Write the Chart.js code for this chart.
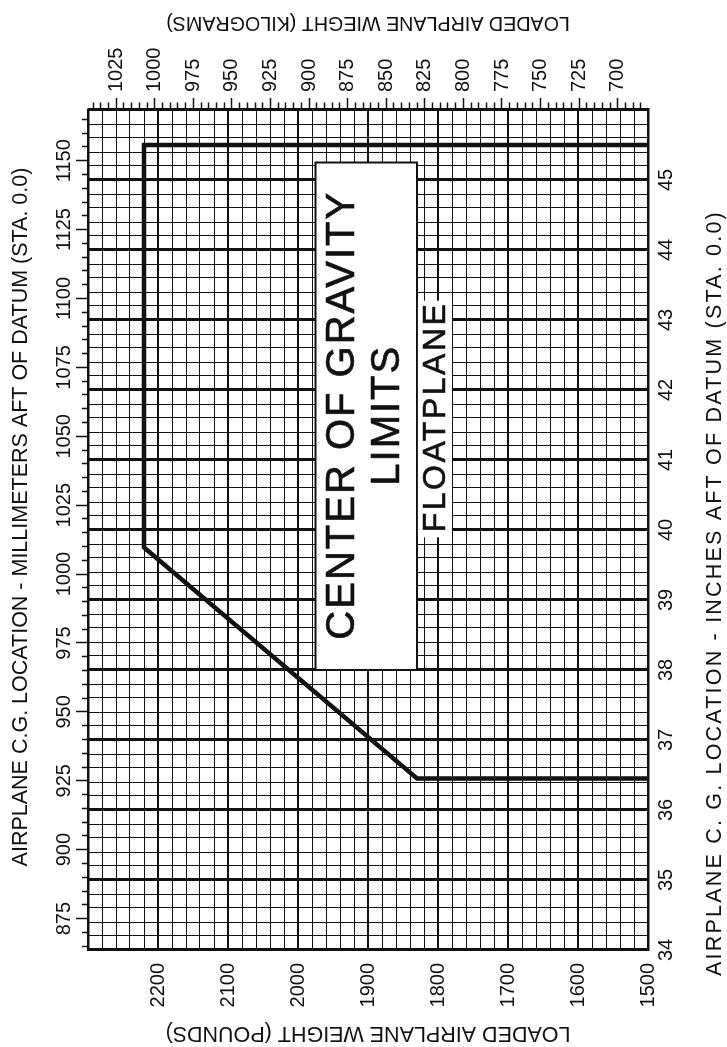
<!DOCTYPE html>
<html>
<head>
<meta charset="utf-8">
<title>Center of Gravity Limits - Floatplane</title>
<script src="https://cdn.jsdelivr.net/npm/chart.js@4.4.1/dist/chart.umd.min.js"></script>
<style>
  html, body { margin: 0; padding: 0; background: #fff; }
  #page { position: relative; width: 727px; height: 1047px; overflow: hidden; background: #fff; }
  /* the chart is laid out landscape and turned a quarter turn counter-clockwise */
  #turn { position: absolute; left: 0; top: 0; width: 1047px; height: 727px;
          transform-origin: 0 0; transform: translate(0, 1047px) rotate(-90deg); }
  canvas { display: block; }
</style>
</head>
<body>
<div id="page"><div id="turn"><canvas id="cg" width="1047" height="727"></canvas></div></div>
<script>
// Envelope corners: C.G. location (inches aft of datum) against loaded weight (pounds)
const cgInches  = [45.5, 45.5, 39.75, 36.45, 36.45];
const weightLbs = [1500, 2220, 2220, 1830, 1500];

// Axis ranges
const inchRange  = [34, 46];
const poundRange = [1500, 2300];

// Labelled tick values
const inchLabels  = [34, 35, 36, 37, 38, 39, 40, 41, 42, 43, 44, 45];
const poundLabels = [1500, 1600, 1700, 1800, 1900, 2000, 2100, 2200];
const mmLabels    = [875, 900, 925, 950, 975, 1000, 1025, 1050, 1075, 1100, 1125, 1150];
const kgLabels    = [700, 725, 750, 775, 800, 825, 850, 875, 900, 925, 950, 975, 1000, 1025];

// Titles and captions
const inchTitle  = 'AIRPLANE C. G. LOCATION - INCHES AFT OF DATUM (STA. 0.0)';
const mmTitle    = 'AIRPLANE C.G. LOCATION - MILLIMETERS AFT OF DATUM (STA. 0.0)';
const poundTitle = 'LOADED AIRPLANE WEIGHT (POUNDS)';
const kgTitle    = 'LOADED AIRPLANE WIEGHT (KILOGRAMS)';
const boxLines   = ['CENTER OF GRAVITY', 'LIMITS'];
const planeLabel = 'FLOATPLANE';

const MM_PER_IN = 25.4;
const KG_PER_LB = 0.45359237;

const FONT = '"Liberation Sans", Arial, Helvetica, sans-serif';
const INK = '#111';
const tickFont  = { family: FONT, size: 20 };
const titleFont = { family: FONT, size: 21.5 };

const listed = (v, list) => list.some(t => Math.abs(v - t) < 1e-6);
const isWhole = (v, step) => Math.abs(v / step - Math.round(v / step)) < 1e-6;
const fixedSize = size => scale => {
  if (scale.isHorizontal()) scale.height = size; else scale.width = size;
};

function inkText(ctx, text, x, y, stroke) {
  ctx.fillText(text, x, y);
  if (stroke) { ctx.lineWidth = stroke; ctx.strokeText(text, x, y); }
}

// Captions: the limits box, the floatplane tag and three of the axis titles
const captions = {
  id: 'captions',
  afterDatasetsDraw(chart) {
    const { ctx, scales, chartArea } = chart;
    const x = scales.x, y = scales.y, mm = scales.xmm, kg = scales.ykg;
    ctx.save();
    ctx.strokeStyle = INK;

    // boxed title
    const bl = x.getPixelForValue(38.0), br = x.getPixelForValue(45.25);
    const bt = y.getPixelForValue(1975), bb = y.getPixelForValue(1830);
    ctx.fillStyle = '#fff';
    ctx.fillRect(bl, bt, br - bl, bb - bt);
    ctx.lineWidth = 2;
    ctx.strokeRect(bl, bt, br - bl, bb - bt);
    ctx.fillStyle = INK;
    ctx.textAlign = 'center';
    ctx.textBaseline = 'middle';
    ctx.font = '40px ' + FONT;
    ctx.letterSpacing = '2px';
    const cx = (bl + br) / 2 + 1, cy = (bt + bb) / 2;
    inkText(ctx, boxLines[0], cx, cy - 23, 0.7);
    inkText(ctx, boxLines[1], cx, cy + 22, 0.7);

    // floatplane tag on a white patch
    ctx.font = '32px ' + FONT;
    ctx.letterSpacing = '2.5px';
    const fx = x.getPixelForValue(41.6), fy = y.getPixelForValue(1803);
    const fw = ctx.measureText(planeLabel).width;
    ctx.fillStyle = '#fff';
    ctx.fillRect(fx - fw / 2 - 4, fy - 18, fw + 6, 34);
    ctx.fillStyle = INK;
    inkText(ctx, planeLabel, fx + 1, fy, 0.6);

    // inch axis title, spaced out, below the inch scale
    ctx.font = '21.5px ' + FONT;
    ctx.letterSpacing = '2.2px';
    inkText(ctx, inchTitle, x.getPixelForValue(39.1), x.bottom - 12, 0);

    // millimetre axis title above the millimetre scale
    ctx.letterSpacing = '0px';
    inkText(ctx, mmTitle, (chartArea.left + chartArea.right) / 2 + 13, mm.top + 21, 0);

    // kilogram axis title (reads the same way as the pound axis title)
    ctx.font = '19.7px ' + FONT;
    ctx.translate(kg.right - 22, (kg.top + kg.bottom) / 2);
    ctx.rotate(-Math.PI / 2);
    inkText(ctx, kgTitle, 0, 0, 0);
    ctx.restore();
  }
};

const outerTicks = {
  drawOnChartArea: false,
  drawTicks: true,
  tickLength: 12,
  tickWidth: 1.5,
  tickColor: INK
};

new Chart(document.getElementById('cg'), {
  type: 'line',
  data: {
    datasets: [{
      label: 'Floatplane C.G. limits',
      data: cgInches.map((v, i) => ({ x: v, y: weightLbs[i] })),
      xAxisID: 'x',
      yAxisID: 'y',
      borderColor: INK,
      borderWidth: 4.5,
      pointRadius: 0,
      fill: false,
      tension: 0
    }]
  },
  options: {
    responsive: false,
    devicePixelRatio: 1,
    animation: false,
    layout: { padding: 0 },
    plugins: { legend: { display: false }, tooltip: { enabled: false } },
    scales: {
      x: {
        type: 'linear', position: 'bottom',
        min: inchRange[0], max: inchRange[1],
        afterFit: fixedSize(79),
        ticks: {
          stepSize: 0.2, autoSkip: false, maxRotation: 0, minRotation: 0,
          padding: 6, color: INK, font: tickFont,
          callback: v => listed(v, inchLabels) ? String(Math.round(v)) : ''
        },
        grid: { color: INK, lineWidth: c => isWhole(c.tick.value, 1) ? 3 : 1, drawTicks: false },
        border: { display: true, color: INK, width: 2.5 },
        title: { display: false }
      },
      y: {
        type: 'linear', position: 'left',
        min: poundRange[0], max: poundRange[1],
        afterFit: fixedSize(97),
        ticks: {
          stepSize: 20, autoSkip: false, padding: 13, color: INK, font: tickFont,
          callback: v => listed(v, poundLabels) ? String(Math.round(v)) : ''
        },
        grid: { color: INK, lineWidth: c => isWhole(c.tick.value, 100) ? 2 : 1, drawTicks: false },
        border: { display: true, color: INK, width: 2.5 },
        title: { display: true, text: poundTitle,
                 color: INK, font: titleFont, padding: { top: 1, bottom: 0 } }
      },
      xmm: {
        type: 'linear', position: 'top',
        min: inchRange[0] * MM_PER_IN, max: inchRange[1] * MM_PER_IN,
        afterFit: fixedSize(88),
        ticks: {
          stepSize: 5, includeBounds: false, autoSkip: false, maxRotation: 0, minRotation: 0,
          padding: 0, color: INK, font: tickFont,
          callback: v => listed(v, mmLabels) ? String(Math.round(v)) : ''
        },
        grid: Object.assign({}, outerTicks, {
          tickBorderDash: c => isWhole(c.tick.value, 25) ? [] : [6, 6],
          tickBorderDashOffset: c => isWhole(c.tick.value, 25) ? 0 : 6
        }),
        border: { display: true, color: INK, width: 2.5 },
        title: { display: false }
      },
      ykg: {
        type: 'linear', position: 'right',
        min: poundRange[0] * KG_PER_LB, max: poundRange[1] * KG_PER_LB,
        afterFit: fixedSize(110),
        ticks: {
          stepSize: 5, includeBounds: false, autoSkip: false,
          padding: 6, color: INK, font: tickFont,
          callback: v => listed(v, kgLabels) ? String(Math.round(v)) : ''
        },
        grid: Object.assign({}, outerTicks, {
          tickBorderDash: c => isWhole(c.tick.value, 25) ? [] : [6, 6],
          tickBorderDashOffset: 0
        }),
        border: { display: true, color: INK, width: 2.5 },
        title: { display: false }
      }
    }
  },
  plugins: [captions]
});
</script>
</body>
</html>
